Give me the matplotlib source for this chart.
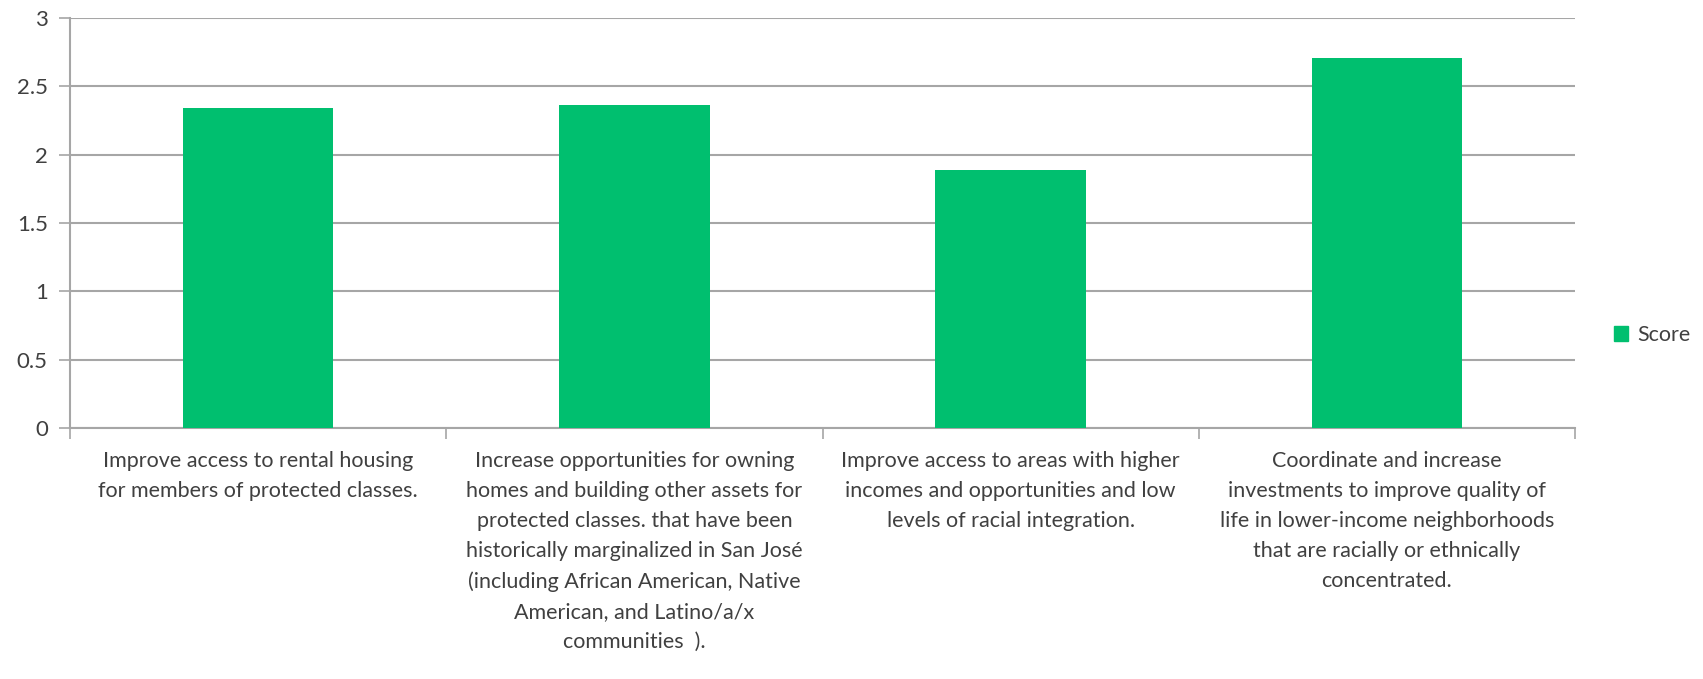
import matplotlib
matplotlib.use("Agg")
import matplotlib.pyplot as plt
from matplotlib.patches import Patch

# fair-housing goals and their average score
goals = [
    "Improve access to rental housing\nfor members of protected classes.",
    "Increase opportunities for owning\nhomes and building other assets for\nprotected classes. that have been\n"
    "historically marginalized in San José\n(including African American, Native\nAmerican, and Latino/a/x\ncommunities  ).",
    "Improve access to areas with higher\nincomes and opportunities and low\nlevels of racial integration.",
    "Coordinate and increase\ninvestments to improve quality of\nlife in lower-income neighborhoods\n"
    "that are racially or ethnically\nconcentrated.",
]
scores = [2.34, 2.36, 1.89, 2.71]
yticks = [0, 0.5, 1, 1.5, 2, 2.5, 3]
ytick_labels = ["0", "0.5", "1", "1.5", "2", "2.5", "3"]

GREEN = "#00bf6f"; GRID = "#a6a6a6"; TXT = "#404040"
plt.rcParams["font.family"] = ["Lato", "DejaVu Sans"]

fig = plt.figure(figsize=(17.03, 6.79), dpi=100)
ax = fig.add_axes([70 / 1703, 1 - 428 / 679, (1575 - 70) / 1703, (428 - 18) / 679])

x = list(range(len(scores)))
ax.bar(x, scores, width=0.4, color=GREEN, zorder=3)
ax.set_xlim(-0.5, len(scores) - 0.5)
ax.set_ylim(0, 3)
ax.set_yticks(yticks)
ax.set_yticklabels(ytick_labels, fontsize=16, color=TXT)
ax.yaxis.grid(True, color=GRID, lw=1.5, zorder=0)

# category boundaries carry the x ticks; labels sit centred under each bar
ax.set_xticks([i - 0.5 for i in range(len(scores) + 1)])
ax.set_xticklabels([])
ax.tick_params(axis="x", length=8, width=1.2, color=GRID, direction="out")
ax.tick_params(axis="y", length=8, width=1.2, color=GRID, direction="out", pad=8)
for i, g in enumerate(goals):
    ax.text(i, -0.165, g, ha="center", va="top", fontsize=15.5, color=TXT,
            linespacing=1.63, transform=ax.transData)

for s in ["top", "right"]:
    ax.spines[s].set_visible(False)
for s in ["left", "bottom"]:
    ax.spines[s].set_color(GRID)
    ax.spines[s].set_linewidth(1.5)

fig.legend(handles=[Patch(color=GREEN, label="Score")], loc="center left",
           bbox_to_anchor=(1614 / 1703, 1 - 335 / 679), frameon=False,
           fontsize=15.5, handlelength=0.65, handleheight=0.65, handletextpad=0.45,
           borderaxespad=0, borderpad=0, labelcolor=TXT)

fig.savefig("out.png", dpi=100)
